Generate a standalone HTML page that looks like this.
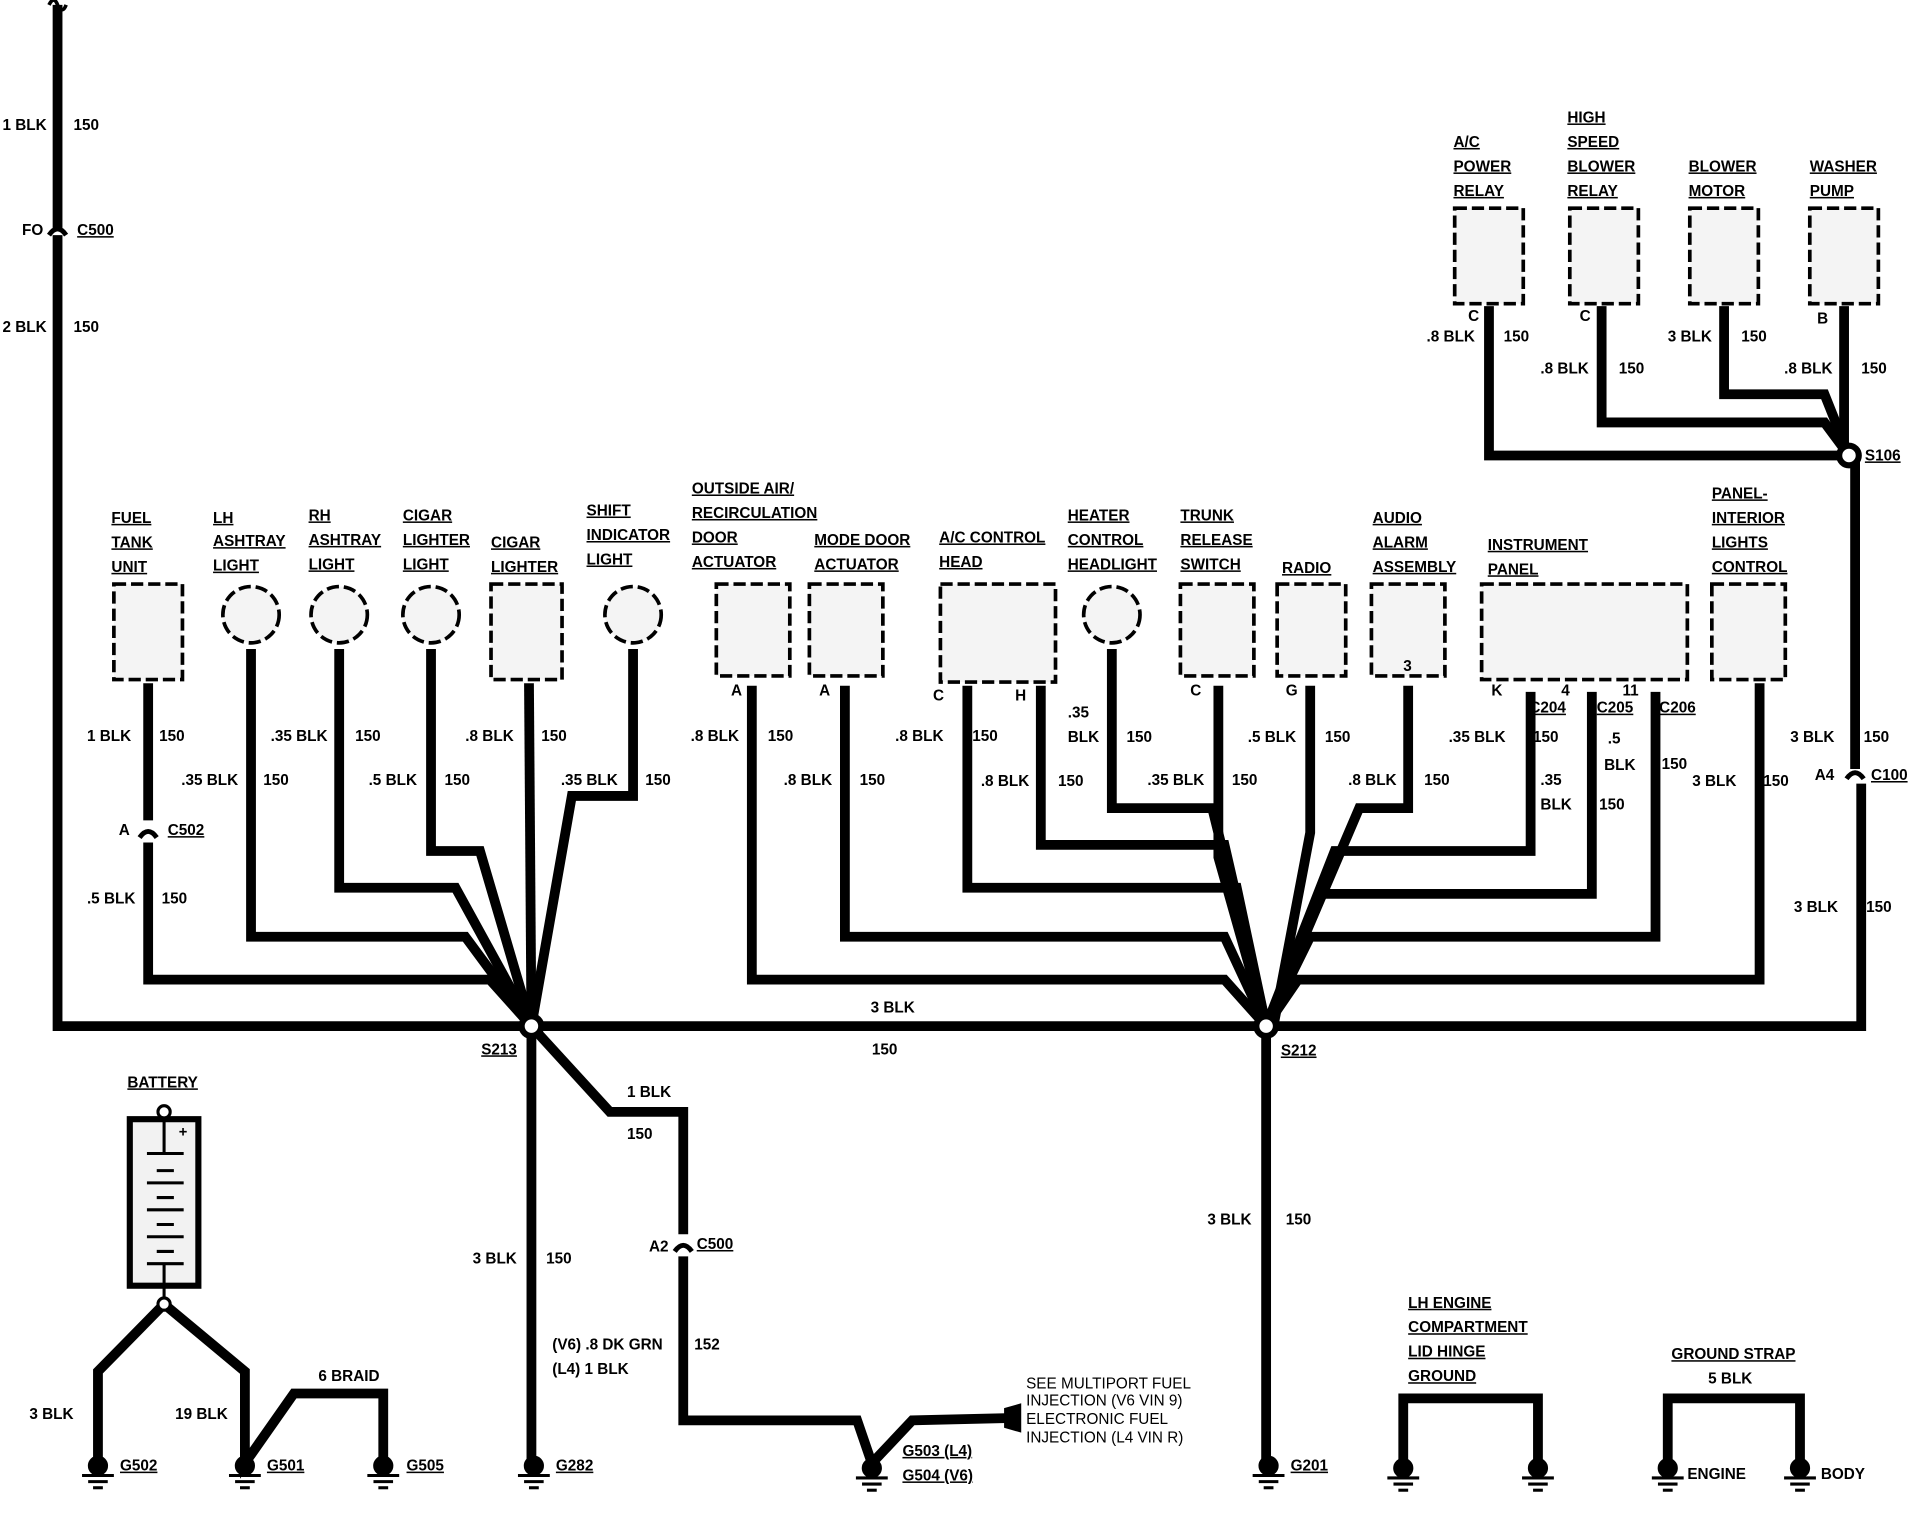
<!DOCTYPE html>
<html><head><meta charset="utf-8"><style>
html,body{margin:0;padding:0;background:#fff}
svg{display:block}
text{font-family:"Liberation Sans",sans-serif;font-weight:bold;font-size:12.5px;fill:#000}
.u{text-decoration:underline}
</style></head><body>
<svg width="1920" height="1536" viewBox="0 0 1568 1254.4" preserveAspectRatio="none" xmlns="http://www.w3.org/2000/svg">
<defs>
<g id="g" fill="#000" stroke="#000" stroke-width="2.5"><circle cx="0" cy="0" r="7"/><line x1="-13" y1="8" x2="13" y2="8"/><line x1="-8" y1="13" x2="8" y2="13"/><line x1="-4" y1="18" x2="4" y2="18"/></g>
</defs>
<rect width="1568" height="1255" fill="#fff"/>
<g fill="none" stroke="#000" stroke-width="8" stroke-linejoin="miter">
<polyline points="47,4 47,838 1520,838 1520,640"/>
<line x1="1515" y1="372" x2="1515" y2="628"/>
<polyline points="121,558 121,670"/>
<polyline points="121,688 121,800 400,800 434,838"/>
<polyline points="205,530 205,765 380,765 434,838"/>
<polyline points="277,530 277,725 372,725 434,838"/>
<polyline points="352,530 352,695 392,695 434,838"/>
<polyline points="432,558 434,838"/>
<polyline points="517,530 517,650 467,650 434,838"/>
<polyline points="614,560 614,800 1000,800 1034,838"/>
<polyline points="690,560 690,765 1000,765 1034,838"/>
<polyline points="790,560 790,725 1010,725 1034,838"/>
<polyline points="850,560 850,690 1000,690 1034,838"/>
<polyline points="908,530 908,660 990,660 1034,838"/>
<polyline points="995,560 995,700 1034,838"/>
<polyline points="1070,560 1070,680 1040,838"/>
<polyline points="1150,560 1150,660 1110,660 1034,838"/>
<polyline points="1250,565 1250,695 1090,695 1034,838"/>
<polyline points="1300,565 1300,730 1080,730 1034,838"/>
<polyline points="1352,565 1352,765 1070,765 1034,838"/>
<polyline points="1437,558 1437,800 1060,800 1034,838"/>
<polyline points="1216,250 1216,372 1510,372"/>
<polyline points="1308,250 1308,345 1490,345 1510,372"/>
<polyline points="1408,250 1408,322 1490,322 1510,372"/>
<polyline points="1506,250 1506,372"/>
<polyline points="434,838 434,1192"/>
<polyline points="434,838 498,908 558,908 558,1008"/>
<polyline points="558,1026 558,1160 700,1160 712,1195"/>
<polyline points="712,1195 745,1160 826,1158"/>
<polyline points="1034,838 1034,1192"/>
<polyline points="134,1065 80,1120 80,1192"/>
<polyline points="134,1065 200,1120 200,1195 240,1138 313,1138 313,1192"/>
<polyline points="1146,1192 1146,1142 1256,1142 1256,1192"/>
<polyline points="1362,1192 1362,1142 1470,1142 1470,1192"/>
</g>
<path d="M40,4 q4,-8 7,0 q4,8 7,0" fill="none" stroke="#000" stroke-width="3"/>
<polygon points="820,1150 834,1146 834,1170 820,1166" fill="#000"/>
<g fill="#fff" stroke="#000" stroke-width="5">
<circle cx="434" cy="838" r="8"/><circle cx="1034" cy="838" r="8"/><circle cx="1510" cy="372" r="8"/>
</g>
<g fill="#fff" stroke="#000" stroke-width="4">
<path d="M40,192 q7,-10 14,0"/><path d="M114,684 q7,-10 14,0"/><path d="M551,1022 q7,-10 14,0"/><path d="M1508,636 q7,-10 14,0"/>
</g>
<g fill="#f4f4f4" stroke="#000" stroke-width="3" stroke-dasharray="10,4">
<rect x="93" y="477" width="56" height="78"/>
<rect x="401" y="477" width="58" height="78"/>
<rect x="585" y="477" width="60" height="75"/>
<rect x="661" y="477" width="60" height="75"/>
<rect x="768" y="477" width="94" height="80"/>
<rect x="964" y="477" width="60" height="75"/>
<rect x="1043" y="477" width="56" height="75"/>
<rect x="1120" y="477" width="60" height="75"/>
<rect x="1210" y="477" width="168" height="78"/>
<rect x="1398" y="477" width="60" height="78"/>
<rect x="1188" y="170" width="56" height="78"/>
<rect x="1282" y="170" width="56" height="78"/>
<rect x="1380" y="170" width="56" height="78"/>
<rect x="1478" y="170" width="56" height="78"/>
<circle cx="205" cy="502" r="23"/><circle cx="277" cy="502" r="23"/><circle cx="352" cy="502" r="23"/><circle cx="517" cy="502" r="23"/><circle cx="908" cy="502" r="23"/>
</g>
<rect x="106" y="914" width="56" height="136" fill="#f2f2f2" stroke="#000" stroke-width="5"/>
<g stroke="#000" stroke-width="2.5"><line x1="134" y1="912" x2="134" y2="942"/><line x1="120" y1="942" x2="150" y2="942"/>
<line x1="128" y1="956" x2="142" y2="956"/><line x1="120" y1="966" x2="150" y2="966"/><line x1="128" y1="978" x2="142" y2="978"/><line x1="120" y1="988" x2="150" y2="988"/><line x1="128" y1="1000" x2="142" y2="1000"/><line x1="120" y1="1010" x2="150" y2="1010"/><line x1="128" y1="1022" x2="142" y2="1022"/><line x1="120" y1="1032" x2="150" y2="1032"/><line x1="134" y1="1032" x2="134" y2="1062"/></g>
<circle cx="134" cy="908" r="5" fill="#fff" stroke="#000" stroke-width="2.5"/>
<circle cx="134" cy="1065" r="5" fill="#fff" stroke="#000" stroke-width="2.5"/>
<text x="146" y="928" style="font-size:12px">+</text>
<use href="#g" x="80" y="1197"/><use href="#g" x="200" y="1197"/><use href="#g" x="313" y="1197"/><use href="#g" x="436" y="1197"/><use href="#g" x="712" y="1199"/><use href="#g" x="1036" y="1197"/><use href="#g" x="1146" y="1199"/><use href="#g" x="1256" y="1199"/><use href="#g" x="1362" y="1199"/><use href="#g" x="1470" y="1199"/>
<text x="2" y="106">1 BLK</text><text x="60" y="106">150</text>
<text x="18" y="192">FO</text><text x="63" y="192" class="u">C500</text>
<text x="2" y="271">2 BLK</text><text x="60" y="271">150</text>
<text x="91" y="427" class="u">FUEL</text><text x="91" y="447" class="u">TANK</text><text x="91" y="467" class="u">UNIT</text>
<text x="174" y="427" class="u">LH</text><text x="174" y="446" class="u">ASHTRAY</text><text x="174" y="466" class="u">LIGHT</text>
<text x="252" y="425" class="u">RH</text><text x="252" y="445" class="u">ASHTRAY</text><text x="252" y="465" class="u">LIGHT</text>
<text x="329" y="425" class="u">CIGAR</text><text x="329" y="445" class="u">LIGHTER</text><text x="329" y="465" class="u">LIGHT</text>
<text x="401" y="447" class="u">CIGAR</text><text x="401" y="467" class="u">LIGHTER</text>
<text x="479" y="421" class="u">SHIFT</text><text x="479" y="441" class="u">INDICATOR</text><text x="479" y="461" class="u">LIGHT</text>
<text x="565" y="403" class="u">OUTSIDE AIR/</text><text x="565" y="423" class="u">RECIRCULATION</text><text x="565" y="443" class="u">DOOR</text><text x="565" y="463" class="u">ACTUATOR</text>
<text x="665" y="445" class="u">MODE DOOR</text><text x="665" y="465" class="u">ACTUATOR</text>
<text x="767" y="443" class="u">A/C CONTROL</text><text x="767" y="463" class="u">HEAD</text>
<text x="872" y="425" class="u">HEATER</text><text x="872" y="445" class="u">CONTROL</text><text x="872" y="465" class="u">HEADLIGHT</text>
<text x="964" y="425" class="u">TRUNK</text><text x="964" y="445" class="u">RELEASE</text><text x="964" y="465" class="u">SWITCH</text>
<text x="1047" y="468" class="u">RADIO</text>
<text x="1121" y="427" class="u">AUDIO</text><text x="1121" y="447" class="u">ALARM</text><text x="1121" y="467" class="u">ASSEMBLY</text>
<text x="1215" y="449" class="u">INSTRUMENT</text><text x="1215" y="469" class="u">PANEL</text>
<text x="1398" y="407" class="u">PANEL-</text><text x="1398" y="427" class="u">INTERIOR</text><text x="1398" y="447" class="u">LIGHTS</text><text x="1398" y="467" class="u">CONTROL</text>
<text x="1187" y="120" class="u">A/C</text><text x="1187" y="140" class="u">POWER</text><text x="1187" y="160" class="u">RELAY</text>
<text x="1280" y="100" class="u">HIGH</text><text x="1280" y="120" class="u">SPEED</text><text x="1280" y="140" class="u">BLOWER</text><text x="1280" y="160" class="u">RELAY</text>
<text x="1379" y="140" class="u">BLOWER</text><text x="1379" y="160" class="u">MOTOR</text>
<text x="1478" y="140" class="u">WASHER</text><text x="1478" y="160" class="u">PUMP</text>
<text x="104" y="888" class="u">BATTERY</text>
<text x="1150" y="1068" class="u">LH ENGINE</text><text x="1150" y="1088" class="u">COMPARTMENT</text><text x="1150" y="1108" class="u">LID HINGE</text><text x="1150" y="1128" class="u">GROUND</text>
<text x="1365" y="1110" class="u">GROUND STRAP</text>
<text x="1199" y="262">C</text><text x="1290" y="262">C</text><text x="1484" y="264">B</text>
<text x="1165" y="279">.8 BLK</text><text x="1228" y="279">150</text>
<text x="1258" y="305">.8 BLK</text><text x="1322" y="305">150</text>
<text x="1362" y="279">3 BLK</text><text x="1422" y="279">150</text>
<text x="1457" y="305">.8 BLK</text><text x="1520" y="305">150</text>
<text x="1523" y="376" class="u">S106</text>
<text x="71" y="605">1 BLK</text><text x="130" y="605">150</text>
<text x="97" y="682">A</text><text x="137" y="682" class="u">C502</text>
<text x="71" y="738">.5 BLK</text><text x="132" y="738">150</text>
<text x="148" y="641">.35 BLK</text><text x="215" y="641">150</text>
<text x="221" y="605">.35 BLK</text><text x="290" y="605">150</text>
<text x="301" y="641">.5 BLK</text><text x="363" y="641">150</text>
<text x="380" y="605">.8 BLK</text><text x="442" y="605">150</text>
<text x="458" y="641">.35 BLK</text><text x="527" y="641">150</text>
<text x="597" y="568">A</text><text x="669" y="568">A</text>
<text x="564" y="605">.8 BLK</text><text x="627" y="605">150</text>
<text x="640" y="641">.8 BLK</text><text x="702" y="641">150</text>
<text x="762" y="572">C</text><text x="829" y="572">H</text>
<text x="731" y="605">.8 BLK</text><text x="794" y="605">150</text>
<text x="801" y="642">.8 BLK</text><text x="864" y="642">150</text>
<text x="872" y="586">.35</text><text x="872" y="606">BLK</text><text x="920" y="606">150</text>
<text x="937" y="641">.35 BLK</text><text x="1006" y="641">150</text>
<text x="972" y="568">C</text><text x="1050" y="568">G</text><text x="1146" y="548">3</text>
<text x="1019" y="606">.5 BLK</text><text x="1082" y="606">150</text>
<text x="1101" y="641">.8 BLK</text><text x="1163" y="641">150</text>
<text x="1218" y="568">K</text><text x="1275" y="568">4</text><text x="1325" y="568">11</text>
<text x="1249" y="582" class="u">C204</text><text x="1304" y="582" class="u">C205</text><text x="1355" y="582" class="u">C206</text>
<text x="1183" y="606">.35 BLK</text><text x="1252" y="606">150</text>
<text x="1258" y="641">.35</text><text x="1258" y="661">BLK</text><text x="1306" y="661">150</text>
<text x="1313" y="607">.5</text><text x="1310" y="629">BLK</text><text x="1357" y="628">150</text>
<text x="1382" y="642">3 BLK</text><text x="1440" y="642">150</text>
<text x="1462" y="606">3 BLK</text><text x="1522" y="606">150</text>
<text x="1482" y="637">A4</text><text x="1528" y="637" class="u">C100</text>
<text x="1465" y="745">3 BLK</text><text x="1524" y="745">150</text>
<text x="711" y="827">3 BLK</text><text x="712" y="861">150</text>
<text x="393" y="861" class="u">S213</text><text x="1046" y="862" class="u">S212</text>
<text x="512" y="896">1 BLK</text><text x="512" y="930">150</text>
<text x="386" y="1032">3 BLK</text><text x="446" y="1032">150</text>
<text x="530" y="1022">A2</text><text x="569" y="1020" class="u">C500</text>
<text x="451" y="1102">(V6) .8 DK GRN</text><text x="567" y="1102">152</text>
<text x="451" y="1122">(L4) 1 BLK</text>
<text x="986" y="1000">3 BLK</text><text x="1050" y="1000">150</text>
<text x="838" y="1134" style="font-weight:normal">SEE MULTIPORT FUEL</text>
<text x="838" y="1148" style="font-weight:normal">INJECTION (V6 VIN 9)</text>
<text x="838" y="1163" style="font-weight:normal">ELECTRONIC FUEL</text>
<text x="838" y="1178" style="font-weight:normal">INJECTION (L4 VIN R)</text>
<text x="737" y="1189" class="u">G503 (L4)</text><text x="737" y="1209" class="u">G504 (V6)</text>
<text x="24" y="1159">3 BLK</text><text x="143" y="1159">19 BLK</text><text x="260" y="1128">6 BRAID</text>
<text x="98" y="1201" class="u">G502</text><text x="218" y="1201" class="u">G501</text><text x="332" y="1201" class="u">G505</text>
<text x="454" y="1201" class="u">G282</text><text x="1054" y="1201" class="u">G201</text>
<text x="1395" y="1130">5 BLK</text>
<text x="1378" y="1208">ENGINE</text><text x="1487" y="1208">BODY</text>
</svg>
</body></html>
